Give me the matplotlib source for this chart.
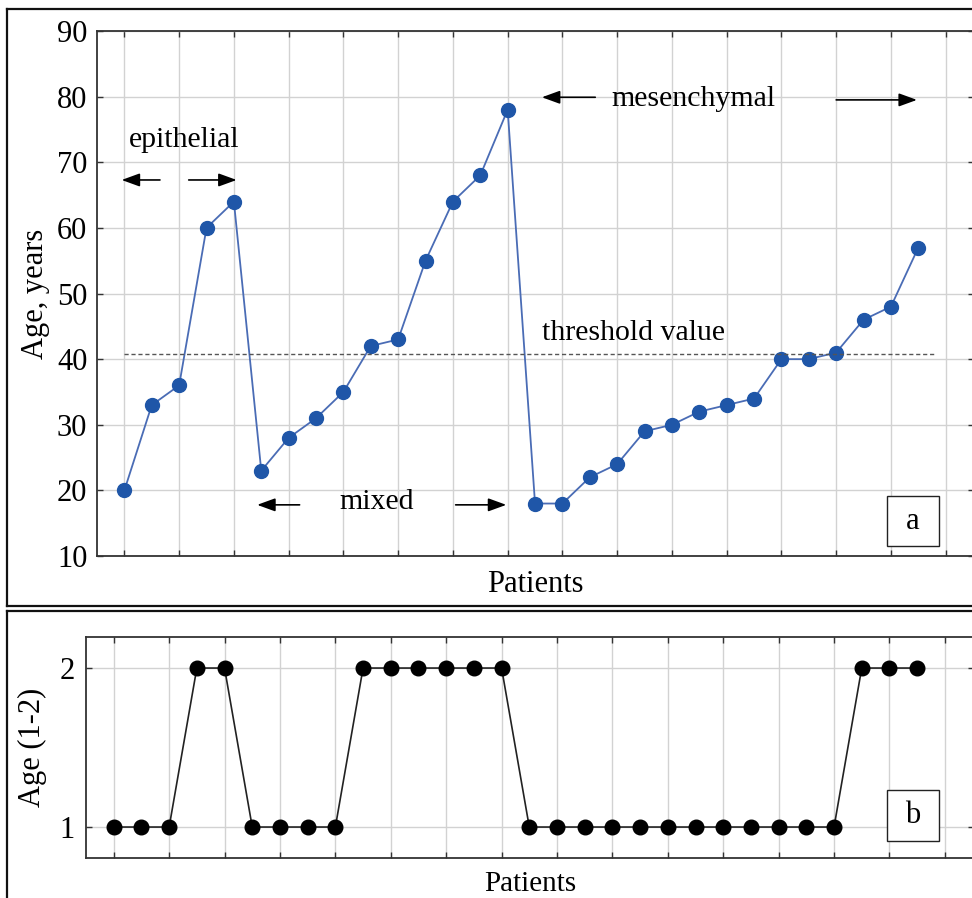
import numpy as np
import matplotlib.pyplot as plt
from matplotlib.lines import Line2D
from matplotlib.patches import Rectangle

# Data
patients = np.arange(30)
age_years = [20, 33, 36, 60, 64, 23, 28, 31, 35, 42, 43, 55, 64, 68, 78,
             18, 18, 22, 24, 29, 30, 32, 33, 34, 40, 40, 41, 46, 48, 57]
age_group = [1, 1, 1, 2, 2, 1, 1, 1, 1, 2, 2, 2, 2, 2, 2,
             1, 1, 1, 1, 1, 1, 1, 1, 1, 1, 1, 1, 2, 2, 2]
threshold = 40.8
age_ticks = [10, 20, 30, 40, 50, 60, 70, 80, 90]
group_ticks = [1, 2]

plt.rcParams['font.family'] = ['Liberation Serif', 'DejaVu Serif']

fig = plt.figure(figsize=(9.72, 8.98), dpi=100)

spine_col = '#333333'
grid_col = '#d2d2d2'
fs = 22


def style_axes(ax, pad):
    for s in ax.spines.values():
        s.set_color(spine_col)
        s.set_linewidth(1.3)
    ax.set_xticks(np.arange(0, 31, 2))
    ax.set_xticklabels([])
    ax.tick_params(direction='in', top=True, right=True, length=4,
                   width=1.0, color=spine_col, labelsize=fs, pad=pad)
    ax.grid(True, color=grid_col, linewidth=1.0)
    ax.set_axisbelow(True)
    ax.set_xlim(-1, 31.05)


def label_box(ax, x0, x1, y0, y1, letter):
    ax.add_patch(Rectangle((x0, y0), x1 - x0, y1 - y0, facecolor='white',
                           edgecolor='#222222', linewidth=1.0, zorder=4))
    ax.text((x0 + x1) / 2, (y0 + y1) / 2, letter, fontsize=fs,
            ha='center', va='center', zorder=5)


# ---- panel a ----
ax1 = fig.add_axes([0.0998, 0.3808, 0.9027, 0.5847])
style_axes(ax1, 7)
ax1.plot(patients, age_years, color='#4a6cb5', linewidth=1.3, marker='o',
         markersize=10, markerfacecolor='#1f56a8', markeredgecolor='#1f56a8')
ax1.plot([0, 29.6], [threshold, threshold], color='#555555', linestyle=(0, (3, 2)),
         linewidth=1.0)
ax1.set_ylim(10, 90)
ax1.set_yticks(age_ticks)
ax1.set_ylabel('Age, years', fontsize=fs)
ax1.yaxis.set_label_coords(-0.054, 0.5)
ax1.set_xlabel('Patients', fontsize=fs)
ax1.xaxis.set_label_coords(0.5, -0.026)

arrow = dict(arrowstyle='-|>,head_length=0.55,head_width=0.2', color='black',
             linewidth=1.2, shrinkA=0, shrinkB=0, mutation_scale=20)
tfs = 21.5
ax1.text(2.2, 73.4, 'epithelial', fontsize=tfs, ha='center', va='center')
ax1.annotate('', xy=(-0.1, 67.3), xytext=(1.3, 67.3), arrowprops=arrow)
ax1.annotate('', xy=(4.1, 67.3), xytext=(2.35, 67.3), arrowprops=arrow)
ax1.text(9.2, 18.2, 'mixed', fontsize=tfs, ha='center', va='center')
ax1.annotate('', xy=(4.85, 17.8), xytext=(6.4, 17.8), arrowprops=arrow)
ax1.annotate('', xy=(13.95, 17.8), xytext=(12.1, 17.8), arrowprops=arrow)
ax1.text(20.8, 79.6, 'mesenchymal', fontsize=tfs, ha='center', va='center')
ax1.annotate('', xy=(15.25, 79.9), xytext=(17.2, 79.9), arrowprops=arrow)
ax1.annotate('', xy=(28.95, 79.5), xytext=(26.0, 79.5), arrowprops=arrow)
ax1.text(15.25, 44.0, 'threshold value', fontsize=tfs, ha='left', va='center')
label_box(ax1, 27.85, 29.74, 11.5, 19.14, 'a')

# ---- panel b ----
ax2 = fig.add_axes([0.0885, 0.0445, 0.9135, 0.2461])
style_axes(ax2, 8)
ax2.plot(patients, age_group, color='#222222', linewidth=1.2, marker='o',
         markersize=10.5, markerfacecolor='black', markeredgecolor='black')
ax2.set_ylim(0.805, 2.195)
ax2.set_yticks(group_ticks)
ax2.set_ylabel('Age (1-2)', fontsize=fs)
ax2.yaxis.set_label_coords(-0.044, 0.5)
ax2.set_xlabel('Patients', fontsize=21)
ax2.xaxis.set_label_coords(0.5, -0.058)
label_box(ax2, 27.92, 29.79, 0.912, 1.233, 'b')

# panel frames
W, H = 972.0, 898.0
frame = dict(color='#111111', linewidth=1.6, transform=fig.transFigure)
fig.add_artist(Line2D([7 / W, 7 / W], [1 - 9 / H, 1 - 606 / H], **frame))
fig.add_artist(Line2D([7 / W, 1.01], [1 - 9 / H, 1 - 9 / H], **frame))
fig.add_artist(Line2D([7 / W, 1.01], [1 - 606 / H, 1 - 606 / H], **frame))
fig.add_artist(Line2D([7 / W, 7 / W], [1 - 611 / H, -0.01], **frame))
fig.add_artist(Line2D([7 / W, 1.01], [1 - 611 / H, 1 - 611 / H], **frame))

fig.savefig('out.png', dpi=100)
